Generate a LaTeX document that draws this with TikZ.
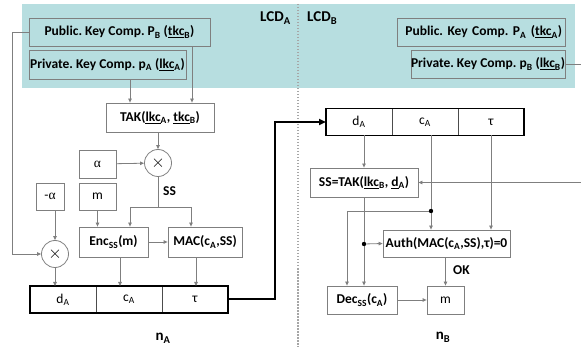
\documentclass[tikz,border=0pt]{standalone}
\usepackage{fontspec}
\setmainfont{Carlito}
\newfontfamily\grk{Liberation Serif}
\usetikzlibrary{arrows.meta,positioning}
\definecolor{lcdteal}{HTML}{B7DEE0}
\definecolor{boxgray}{HTML}{7F7F7F}
\newcommand{\lo}[1]{\textsubscript{#1}}
\frenchspacing

\begin{document}
\begin{tikzpicture}[x=1pt, y=-1pt,
  keybox/.style={
    rectangle, draw=boxgray, line width=0.8pt, inner sep=0pt,
    font=\fontsize{13.5}{15}\selectfont\bfseries
  },
  valbox/.style={
    rectangle, draw=boxgray, line width=0.8pt, inner sep=0pt,
    font=\fontsize{13.5}{15}\selectfont
  },
  cell/.style={
    rectangle, draw=black!70, line width=0.8pt, inner sep=0pt, outer sep=0pt,
    minimum width=66pt, minimum height=27pt,
    font=\fontsize{13.5}{15}\selectfont
  },
  mul/.style={
    circle, draw=boxgray, line width=0.8pt, inner sep=0pt, minimum size=27pt,
    font=\fontsize{17}{17}\selectfont
  },
  lbl/.style={inner sep=0pt, font=\fontsize{13.5}{15}\selectfont\bfseries},
  big/.style={inner sep=0pt, font=\fontsize{15}{17}\selectfont\bfseries},
  arr/.style={-{Triangle[length=4pt,width=3.5pt]}, draw=boxgray, line width=0.8pt},
  link/.style={-{Triangle[length=7pt,width=6pt]}, draw=black, line width=2pt},
]
  \useasboundingbox (0,0) rectangle (581,347);

  % local key domains
  \fill[lcdteal] (22,4) rectangle (575,88);
  \draw[gray!70, line width=1.5pt, dash pattern=on 1.5pt off 1.5pt] (298,4) -- (298,347);
  \node[big, anchor=base west] (lcdA) at (260,22) {LCD\lo{A}};
  \node[big, anchor=base west] (lcdB) at (307,22) {LCD\lo{B}};

  % key components
  \node[keybox, minimum width=181pt, minimum height=28pt] (pubB) at (119.5,32) {Public. Key Comp. P\lo{B} (\underline{tkc}\lo{B})};
  \node[keybox, minimum width=157pt, minimum height=29pt] (privA) at (107.5,64.5) {Private. Key Comp. p\lo{A} (\underline{lkc}\lo{A})};
  \node[keybox, minimum width=168pt, minimum height=28pt, text width=162pt, align=right] (pubA) at (481,32) {Public. Key Comp. P\lo{A} (\underline{tkc}\lo{A})};
  \node[keybox, minimum width=154pt, minimum height=28pt] (privB) at (488,64) {Private. Key Comp. p\lo{B} (\underline{lkc}\lo{B})};

  % sender n_A
  \node[keybox, minimum width=108pt, minimum height=29pt] (tak) at (160,117.5) {TAK(\underline{lkc}\lo{A}, \underline{tkc}\lo{B})};
  \node[mul] (mul1) at (158,163) {$\times$};
  \node[valbox, minimum width=37pt, minimum height=28pt] (alpha) at (97.5,164) {\grk α};
  \node[valbox, minimum width=28pt, minimum height=27pt] (nalpha) at (50,196.5) {-\grk α};
  \node[valbox, minimum width=37pt, minimum height=27pt] (mA) at (97.5,196.5) {m};
  \node[lbl, anchor=base west] (ss) at (163,196) {SS};
  \coordinate (ssj) at (158,207);
  \node[keybox, minimum width=69pt, minimum height=30pt] (enc) at (113.5,242) {Enc\lo{SS}(m)};
  \node[keybox, minimum width=74pt, minimum height=30pt] (mac) at (205,242) {MAC(c\lo{A},SS)};
  \node[mul] (mul2) at (55,254) {$\times$};
  \coordinate (lft) at (12,32);

  % packet of n_A
  \node[cell] (dA) at (63,299.5) {d\lo{A}};
  \node[cell, right=0pt of dA] (cA) {c\lo{A}};
  \node[cell, right=0pt of cA] (tauA) {τ};
  \draw[line width=1.6pt] (dA.north west) rectangle (tauA.south east);
  \node[big, anchor=base] (nA) at (163,341) {n\lo{A}};

  % receiver n_B
  \node[cell] (dB) at (359,122) {d\lo{A}};
  \node[cell, right=0pt of dB] (cB) {c\lo{A}};
  \node[cell, right=0pt of cB] (tauB) {τ};
  \draw[line width=1.6pt] (dB.north west) rectangle (tauB.south east);
  \node[keybox, minimum width=108pt, minimum height=29pt] (ssk) at (364,182.5) {SS=TAK(\underline{lkc}\lo{B}, \underline{d}\lo{A})};
  \node[keybox, minimum width=127pt, minimum height=27pt] (auth) at (446.5,243.5) {Auth(MAC(c\lo{A},SS),τ)=0};
  \node[lbl, anchor=base west] (ok) at (453,275) {OK};
  \node[keybox, minimum width=70pt, minimum height=28pt] (dec) at (362,300) {Dec\lo{SS}(c\lo{A})};
  \node[valbox, minimum width=37pt, minimum height=28pt] (mB) at (445.5,300) {m};
  \node[big, anchor=base] (nB) at (443,340) {n\lo{B}};
  \coordinate (rgt) at (587,64);
  \coordinate (cdot) at (431,211);
  \coordinate (sdot) at (364,244);

  % arrows of n_A
  \draw[arr] (privA.south -| 130,0) -- (tak.north -| 130,0);
  \draw[arr] (pubB.south -| 192,0) -- (tak.north -| 192,0);
  \draw[arr] (tak.south -| mul1) -- (mul1.north);
  \draw[arr] (alpha) -- (mul1);
  \draw[boxgray, line width=0.8pt] (mul1.south) -- (ssj);
  \draw[arr] (ssj) -| (enc.north -| 130,0);
  \draw[arr] (ssj) -| (mac.north -| 191,0);
  \draw[arr] (mA) -- (enc.north -| mA);
  \draw[arr] (nalpha.south -| mul2) -- (mul2.north);
  \draw[arr] (pubB.west) -- (lft) |- (mul2.west);
  \draw[arr] (enc) -- (mac);
  \draw[arr] (mul2.south) -- (dA.north -| mul2);
  \draw[arr] (enc.south -| 120,0) -- (cA.north -| 120,0);
  \draw[arr] (mac.south -| 196,0) -- (tauA.north -| 196,0);

  % transfer
  \draw[link] (tauA.east) -- ++(47,0) |- (dB.west);

  % arrows of n_B
  \draw[arr] (dB.south -| ssk) -- (ssk.north);
  \draw[arr] (privB.east) -- (rgt) |- (ssk.east);
  \draw[arr] (cB.south -| cdot) -- (auth.north -| cdot);
  \draw[arr] (cdot) -| (dec.north -| 347,0);
  \draw[arr] (tauB.south -| 491,0) -- (auth.north -| 491,0);
  \draw[arr] (ssk.south) -- (dec.north -| ssk);
  \draw[arr] (sdot) -- (auth.west);
  \fill (cdot) circle (2.2pt) (sdot) circle (2.2pt);
  \draw[arr] (auth.south -| mB) -- (mB.north);
  \draw[arr] (dec) -- (mB);
\end{tikzpicture}
\end{document}
